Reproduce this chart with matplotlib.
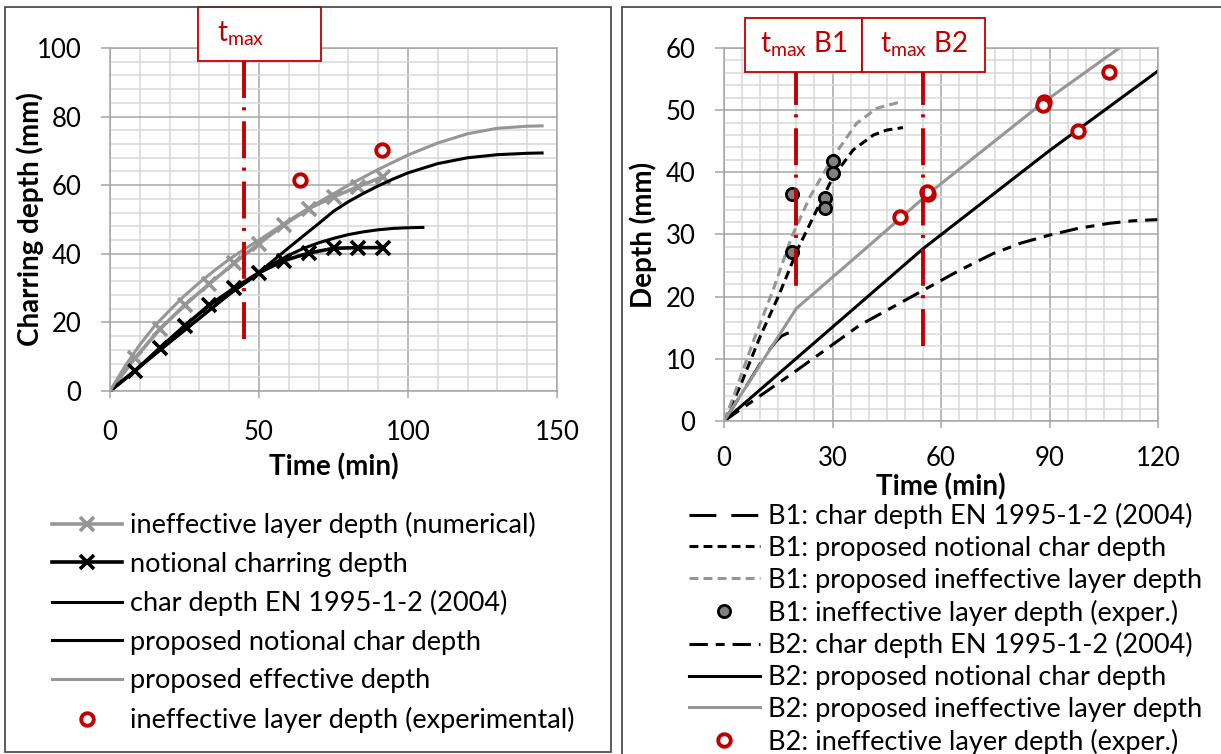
import matplotlib
matplotlib.use("Agg")
import matplotlib.pyplot as plt
from matplotlib.ticker import MultipleLocator
from matplotlib.lines import Line2D
from matplotlib.patches import Rectangle

plt.rcParams['font.family'] = ['Lato', 'DejaVu Sans']
plt.rcParams['mathtext.fontset'] = 'custom'
plt.rcParams['mathtext.rm'] = 'Lato'
plt.rcParams['mathtext.it'] = 'Lato:italic'

# ---- left panel: charring depth ----
t_num = [0, 8.3, 16.7, 25, 33.3, 41.7, 50, 58.3, 66.7, 75, 83.3, 91.7]
ineff_num = [0, 9.5, 18, 25, 31.2, 37.3, 43, 48.4, 53.2, 56.6, 59.6, 62.5]
notional_num = [0, 5.8, 12.5, 19, 25, 30, 34.5, 38, 40.2, 41.6, 41.8, 41.8]

t_en = [0, 10, 20, 30, 40, 50, 55, 60, 65, 70, 75, 80, 85, 90, 95, 100, 105]
char_en = [0, 7.1, 14.2, 21.2, 28.2, 34.3, 37.2, 39.6, 41.6, 43.2, 44.5, 45.6,
           46.4, 47.0, 47.4, 47.6, 47.7]

t_prop = [0, 10, 20, 30, 40, 50, 55, 60, 65, 70, 75, 80, 85, 90, 95, 100,
          110, 120, 130, 140, 145]
notional_prop = [0, 7.1, 14.2, 21.2, 28.2, 34.6, 38.2, 41.8, 45.3, 48.8, 52.4,
                 55.2, 57.6, 59.8, 61.8, 63.6, 66.3, 68.0, 68.9, 69.3, 69.4]

t_eff = [0, 5, 10, 15, 20, 25, 30, 35, 40, 45, 50, 60, 70, 80, 90, 100, 110,
         120, 130, 140, 145]
eff_prop = [0, 7.2, 13.5, 19, 23.5, 27.8, 31.6, 35.1, 38.4, 41.3, 44, 49.7, 55,
            60, 64.6, 68.8, 72.3, 75, 76.6, 77.2, 77.3]

t_exp = [63.8, 91.4]
ineff_exp = [61.5, 70.3]

t_max = 45

# ---- right panel: beams B1 and B2 ----
b1_t_en = [0, 5, 10, 12.5, 14.5, 16, 17.5, 20]
b1_en = [0, 4.5, 9.2, 11.4, 12.9, 13.7, 14.1, 14.4]

b1_t_not = [0, 4.4, 10, 15, 20.5, 25.6, 30.2, 35.7, 41.3, 45, 49.5]
b1_not = [0, 5.5, 13.6, 20, 27.8, 33.9, 39.3, 43.6, 46, 46.8, 47.2]

b1_t_ineff = [0, 2.6, 8.6, 13.6, 18.7, 23.8, 30.2, 36.7, 42.2, 48.6]
b1_ineff = [0, 3.9, 13.6, 21.1, 29.6, 36.1, 42.5, 47.9, 50.3, 51.3]

b1_t_exp = [18.7, 18.7, 27.9, 27.9, 30.2, 30.0]
b1_exp = [36.5, 27.2, 35.9, 34.3, 41.8, 39.9]

b2_t_en = [0, 20, 37.5, 55, 65, 74.3, 82, 90, 98, 106.5, 113, 120]
b2_en = [0, 8.1, 15.4, 21, 24.2, 26.9, 28.6, 29.9, 31.0, 31.8, 32.2, 32.4]

b2_t_not = [0, 55, 90, 120]
b2_not = [0, 27.7, 43.5, 56.3]

b2_t_ineff = [0, 20, 37.5, 56.4, 88.4, 109.3]
b2_ineff = [0, 18.1, 26.9, 36.5, 51.3, 60]

b2_t_exp = [48.6, 56.4, 56.2, 88.4, 88.2, 98, 106.5]
b2_exp = [32.8, 36.5, 36.9, 51.3, 50.9, 46.6, 56.1]

t_max_b1 = 20
t_max_b2 = 55

GRAY = '#969696'
RED = '#c00000'
W, H = 1221, 754
TMAX_LS = (0, (9.5, 2.4, 0.8, 2.8))

fig = plt.figure(figsize=(W / 100, H / 100), dpi=100)
ax1 = fig.add_axes([110 / W, 1 - 391 / H, 447 / W, 343 / H])
ax2 = fig.add_axes([724 / W, 1 - 421 / H, 434 / W, 373 / H])

# panel frames
fig.add_artist(Rectangle((5 / W, 1 - 752 / H), 606 / W, 745 / H,
                         transform=fig.transFigure, fill=False,
                         ec='#404040', lw=1.2))
fig.add_artist(Rectangle((622 / W, -0.01), 0.6, 1 - 7 / H + 0.01,
                         transform=fig.transFigure, fill=False,
                         ec='#404040', lw=1.2))


def style_axes(ax, xmaj, xmin, ymaj, ymin):
    ax.xaxis.set_major_locator(MultipleLocator(xmaj))
    ax.xaxis.set_minor_locator(MultipleLocator(xmin))
    ax.yaxis.set_major_locator(MultipleLocator(ymaj))
    ax.yaxis.set_minor_locator(MultipleLocator(ymin))
    ax.grid(which='minor', color='#d9d9d9', lw=1.1)
    ax.grid(which='major', color='#a6a6a6', lw=1.1)
    ax.set_axisbelow(True)
    for s in ax.spines.values():
        s.set_color('#a6a6a6')
        s.set_linewidth(1.1)
    ax.tick_params(which='minor', length=0)
    ax.tick_params(axis='y', which='major', length=6.5, color='#a6a6a6',
                   width=1.1, pad=14, labelsize=18.5)
    ax.tick_params(axis='x', which='major', length=5, color='#a6a6a6',
                   width=1.1, pad=16, labelsize=18.5)


style_axes(ax1, 50, 10, 20, 4)
style_axes(ax2, 30, 5, 10, 2)
ax1.set_xlim(0, 150)
ax1.set_ylim(0, 100)
ax2.set_xlim(0, 120)
ax2.set_ylim(0, 60)

# left chart
ax1.plot(t_num, ineff_num, color=GRAY, lw=2.6, marker='x', ms=10, mew=2.6)
ax1.plot(t_num, notional_num, color='black', lw=2.6, marker='x', ms=10, mew=2.6)
ax1.plot(t_en, char_en, color='black', lw=2.2)
ax1.plot(t_prop, notional_prop, color='black', lw=2.2)
ax1.plot(t_eff, eff_prop, color=GRAY, lw=2.2)
ax1.plot(t_exp, ineff_exp, ls='none', marker='o', ms=9, mfc='white',
         mec=RED, mew=2.8)
ax1.plot([t_max, t_max], [96.2, 13], color=RED, lw=2.8, ls=TMAX_LS)
ax1.add_patch(Rectangle((29.5, 96.2), 41.3, 15.8, fill=True, fc='white',
                        ec=RED, lw=1.3, clip_on=False, zorder=5))
ax1.text(36.0, 104.3, r't$_{\mathrm{max}}$', color=RED, fontsize=20,
         va='center', ha='left', zorder=6)

ax1.set_xlabel('Time (min)', fontsize=20, fontweight='bold', labelpad=6)
ax1.set_ylabel('Charring depth (mm)', fontsize=20, fontweight='bold',
               labelpad=-5)

left_handles = [
    Line2D([], [], color=GRAY, lw=2.6, marker='x', ms=10, mew=2.6),
    Line2D([], [], color='black', lw=2.6, marker='x', ms=10, mew=2.6),
    Line2D([], [], color='black', lw=2.2),
    Line2D([], [], color='black', lw=2.2),
    Line2D([], [], color=GRAY, lw=2.2),
    Line2D([], [], ls='none', marker='o', ms=9, mfc='white', mec=RED, mew=2.8),
]
left_labels = ['ineffective layer depth (numerical)', 'notional charring depth',
               'char depth EN 1995-1-2 (2004)', 'proposed notional char depth',
               'proposed effective depth',
               'ineffective layer depth (experimental)']
fig.legend(left_handles, left_labels, loc='upper left',
           bbox_to_anchor=(52 / W, 1 - 512 / H), frameon=False, fontsize=19.5,
           borderpad=0, borderaxespad=0, handlelength=2.58,
           handletextpad=0.3, labelspacing=0.5, numpoints=1)

# right chart
ax2.plot(b1_t_en, b1_en, color='black', lw=2.2, ls=(0, (8.8, 4.9)))
ax2.plot(b1_t_not, b1_not, color='black', lw=2.2, ls=(0, (2.9, 1.7)))
ax2.plot(b1_t_ineff, b1_ineff, color=GRAY, lw=2.2, ls=(0, (2.9, 1.7)))
ax2.plot(b1_t_exp, b1_exp, ls='none', marker='o', ms=8.8, mfc='#808080',
         mec='black', mew=2)
ax2.plot(b2_t_en, b2_en, color='black', lw=2.2, ls=(0, (6, 2.6, 2.9, 2.6)))
ax2.plot(b2_t_not, b2_not, color='black', lw=2.2)
ax2.plot(b2_t_ineff, b2_ineff, color=GRAY, lw=2.2)
ax2.plot(b2_t_exp, b2_exp, ls='none', marker='o', ms=9, mfc='white',
         mec=RED, mew=2.8)
ax2.plot([t_max_b1, t_max_b1], [56.8, 20.3], color=RED, lw=2.8, ls=TMAX_LS)
ax2.plot([t_max_b2, t_max_b2], [56.8, 10.9], color=RED, lw=2.8, ls=TMAX_LS)
for x0, x1, lab in [(5.7, 38.2, 'B1'), (38.2, 72.2, 'B2')]:
    ax2.add_patch(Rectangle((x0, 56.1), x1 - x0, 8.7, fill=True, fc='white',
                            ec=RED, lw=1.3, clip_on=False, zorder=5))
    ax2.text((x0 + x1) / 2, 60.6, r't$_{\mathrm{max}}$ ' + lab, color=RED,
             fontsize=20, va='center', ha='center', zorder=6)

ax2.tick_params(axis='x', which='major', pad=13)
ax2.set_xlabel('Time (min)', fontsize=20, fontweight='bold')
ax2.xaxis.label.set_va('center')
ax2.xaxis.set_label_coords(0.5, -(487 - 421) / 373)
ax2.set_ylabel('Depth (mm)', fontsize=20, fontweight='bold', labelpad=6)

right_handles = [
    Line2D([], [], color='black', lw=2.2, ls=(0, (8.8, 4.9))),
    Line2D([], [], color='black', lw=2.2, ls=(0, (2.9, 1.7))),
    Line2D([], [], color=GRAY, lw=2.2, ls=(0, (2.9, 1.7))),
    Line2D([], [], ls='none', marker='o', ms=8.8, mfc='#808080', mec='black',
           mew=2),
    Line2D([], [], color='black', lw=2.2, ls=(0, (6, 2.6, 2.9, 2.6))),
    Line2D([], [], color='black', lw=2.2),
    Line2D([], [], color=GRAY, lw=2.2),
    Line2D([], [], ls='none', marker='o', ms=9, mfc='white', mec=RED, mew=2.8),
]
right_labels = ['B1: char depth EN 1995-1-2 (2004)',
                'B1: proposed notional char depth',
                'B1: proposed ineffective layer depth',
                'B1: ineffective layer depth (exper.)',
                'B2: char depth EN 1995-1-2 (2004)',
                'B2: proposed notional char depth',
                'B2: proposed ineffective layer depth',
                'B2: ineffective layer depth (exper.)']
fig.legend(right_handles, right_labels, loc='upper left',
           bbox_to_anchor=(689 / W, 1 - 503 / H), frameon=False, fontsize=19.5,
           borderpad=0, borderaxespad=0, handlelength=2.62,
           handletextpad=0.3, labelspacing=0.25, numpoints=1)

fig.savefig('out.png', dpi=100)
